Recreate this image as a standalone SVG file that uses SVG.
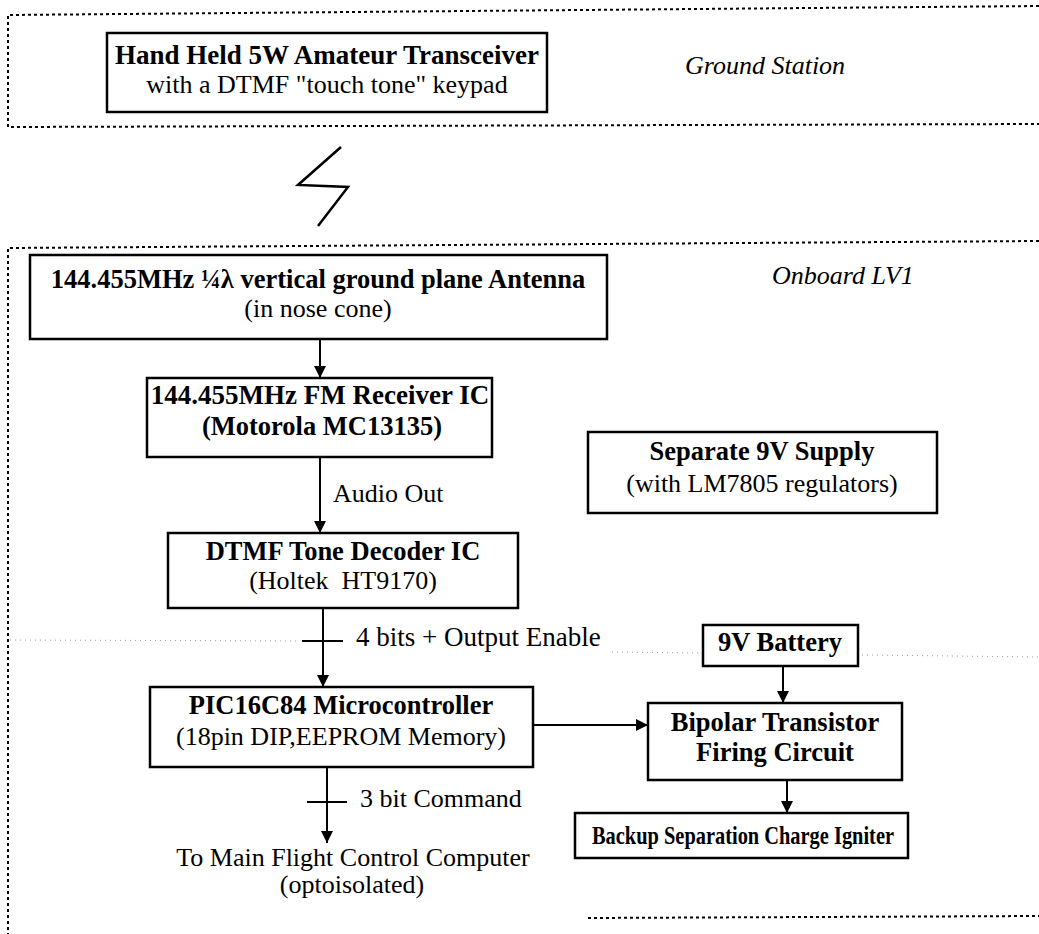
<svg xmlns="http://www.w3.org/2000/svg" width="1039" height="934" viewBox="0 0 1039 934">
  <defs>
    <marker id="arrow" markerUnits="userSpaceOnUse" markerWidth="12" markerHeight="12" viewBox="0 0 12 12" refX="12" refY="6" orient="auto">
      <path d="M0,0 L12,6 L0,12 Z" fill="#000"/>
    </marker>
    <style>
      .frame { fill: none; stroke: #000; stroke-width: 2; stroke-dasharray: 3 3; }
      .faint { fill: none; stroke: #9a9a9a; stroke-width: 1; stroke-dasharray: 1 4; }
      .box { fill: #fff; stroke: #000; stroke-width: 2.5; }
      .wire { fill: none; stroke: #000; stroke-width: 2; }
      .tick { fill: none; stroke: #000; stroke-width: 2; }
      text { font-family: "Liberation Serif", "Times New Roman", serif; fill: #000; }
      .b { font-size: 26.5px; font-weight: bold; text-anchor: middle; }
      .r { font-size: 26px; text-anchor: middle; }
      .lbl { font-size: 26px; }
      .zone { font-size: 26px; font-style: italic; }
    </style>
  </defs>

  <rect width="1039" height="934" fill="#fff"/>

  <!-- zone frames -->
  <g id="ground-station-zone">
    <path class="frame" d="M1039,6 L8,15 L8,127 L1039,124"/>
    <text class="zone" x="685" y="74">Ground Station</text>
  </g>
  <g id="onboard-zone">
    <path class="frame" d="M1039,241 L8,248 L8,934"/>
    <path class="frame" d="M588,918 L1039,916"/>
    <text class="zone" x="772" y="284">Onboard LV1</text>
  </g>
  <path class="faint" d="M10,640 L300,641 M612,652 L1039,657"/>

  <!-- radio link -->
  <g id="radio-link">
    <path d="M341,147 L298,185 L348,187 L318,226" fill="none" stroke="#000" stroke-width="2.5" stroke-linejoin="miter"/>
  </g>

  <!-- nodes -->
  <g id="transceiver">
    <rect class="box" x="107" y="33" width="440" height="79"/>
    <text class="b" x="327" y="64" style="font-size:27px">Hand Held 5W Amateur Transceiver</text>
    <text class="r" x="327" y="93">with a DTMF "touch tone" keypad</text>
  </g>

  <g id="antenna">
    <rect class="box" x="30" y="255" width="577" height="84"/>
    <text class="b" x="318" y="288">144.455MHz ¼λ vertical ground plane Antenna</text>
    <text class="r" x="318" y="317">(in nose cone)</text>
  </g>

  <g id="receiver">
    <rect class="box" x="147" y="378" width="345" height="79"/>
    <text class="b" x="320" y="404" style="font-size:27px">144.455MHz FM Receiver IC</text>
    <text class="b" x="322" y="435">(Motorola MC13135)</text>
  </g>

  <g id="supply">
    <rect class="box" x="588" y="432" width="349" height="81"/>
    <text class="b" x="762" y="460">Separate 9V Supply</text>
    <text class="r" x="762" y="492">(with LM7805 regulators)</text>
  </g>

  <g id="decoder">
    <rect class="box" x="168" y="533" width="350" height="75"/>
    <text class="b" x="343" y="560">DTMF Tone Decoder IC</text>
    <text class="r" x="343" y="589" style="white-space:pre">(Holtek  HT9170)</text>
  </g>

  <g id="battery">
    <rect class="box" x="703" y="625" width="155" height="41"/>
    <text class="b" x="780" y="651">9V Battery</text>
  </g>

  <g id="pic">
    <rect class="box" x="150" y="687" width="383" height="80"/>
    <text class="b" x="341" y="714">PIC16C84 Microcontroller</text>
    <text class="r" x="341" y="745">(18pin DIP,EEPROM Memory)</text>
  </g>

  <g id="firing">
    <rect class="box" x="648" y="703" width="254" height="77"/>
    <text class="b" x="775" y="731">Bipolar Transistor</text>
    <text class="b" x="775" y="761">Firing Circuit</text>
  </g>

  <g id="igniter">
    <rect class="box" x="575" y="813" width="333" height="45"/>
    <text class="b" x="743" y="844" style="font-size:25px" textLength="302" lengthAdjust="spacingAndGlyphs">Backup Separation Charge Igniter</text>
  </g>

  <g id="computer-output">
    <text class="r" x="353" y="866">To Main Flight Control Computer</text>
    <text class="r" x="352" y="893">(optoisolated)</text>
  </g>

  <!-- connectors -->
  <g id="connectors">
    <path class="wire" d="M320,339 L320,378" marker-end="url(#arrow)"/>
    <path class="wire" d="M320,457 L320,533" marker-end="url(#arrow)"/>
    <text class="lbl" x="333" y="502">Audio Out</text>
    <path class="wire" d="M323,608 L323,687" marker-end="url(#arrow)"/>
    <path class="tick" d="M302,641 L343,641"/>
    <text class="lbl" x="356" y="646" style="font-size:27px">4 bits + Output Enable</text>
    <path class="wire" d="M533,725 L648,725" marker-end="url(#arrow)"/>
    <path class="wire" d="M783,666 L783,703" marker-end="url(#arrow)"/>
    <path class="wire" d="M787,780 L787,813" marker-end="url(#arrow)"/>
    <path class="wire" d="M327,767 L327,843" marker-end="url(#arrow)"/>
    <path class="tick" d="M307,802 L347,802"/>
    <text class="lbl" x="360" y="807">3 bit Command</text>
  </g>
</svg>
